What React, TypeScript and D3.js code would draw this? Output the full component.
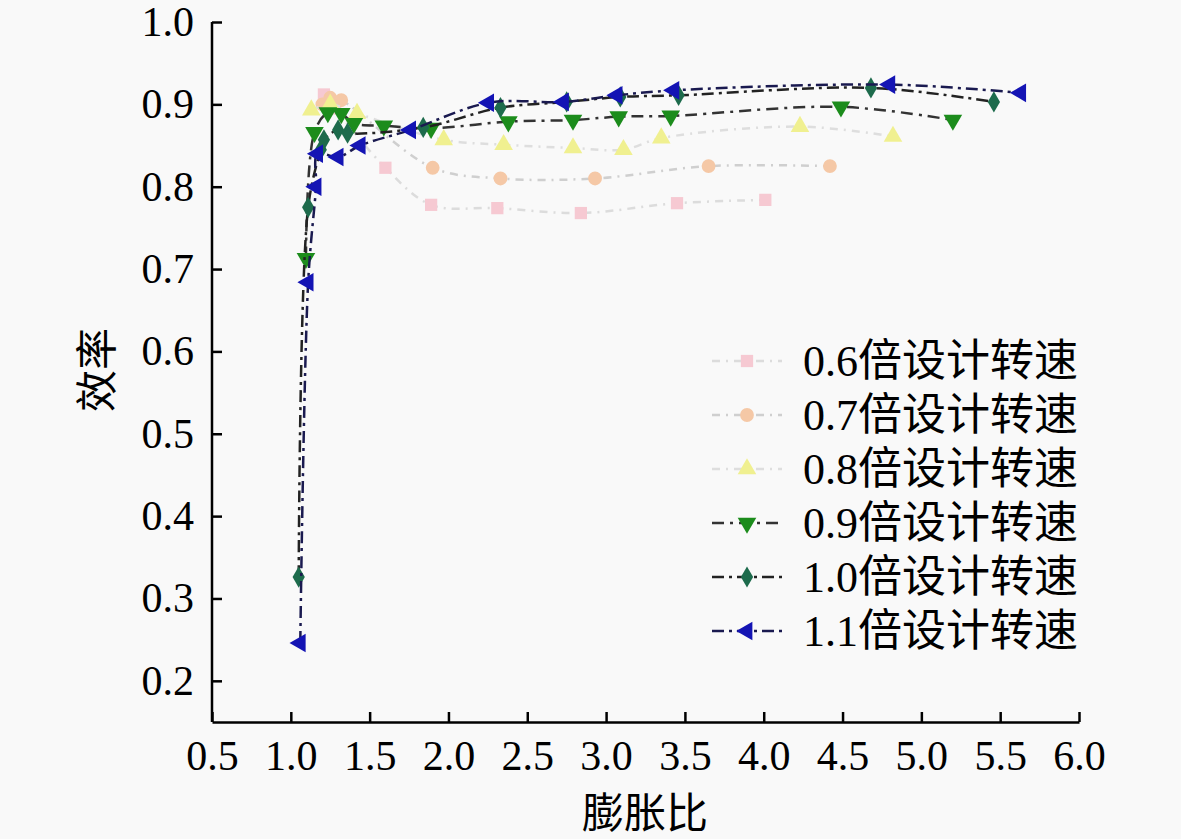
import React, { useEffect, useRef } from 'react';
import * as d3 from 'd3';

// expansion ratio / efficiency
const x06 = [1.21, 1.28, 1.6, 1.89, 2.31, 2.84, 3.45, 4.01];
const y06 = [0.912, 0.895, 0.823, 0.778, 0.774, 0.768, 0.78, 0.784];
const x07 = [1.2, 1.25, 1.32, 1.9, 2.33, 2.93, 3.65, 4.42];
const y07 = [0.9, 0.908, 0.905, 0.823, 0.81, 0.81, 0.825, 0.825];
const x08 = [1.13, 1.25, 1.42, 1.97, 2.35, 2.79, 3.11, 3.35, 4.23, 4.82];
const y08 = [0.893, 0.9, 0.889, 0.857, 0.851, 0.847, 0.845, 0.859, 0.873, 0.861];
const x09 = [1.096, 1.15, 1.235, 1.32, 1.4, 1.59, 1.89, 2.38, 2.79, 3.08, 3.41, 4.49, 5.2];
const y09 = [0.713, 0.866, 0.89, 0.889, 0.877, 0.874, 0.871, 0.879, 0.881, 0.885, 0.886, 0.897, 0.881];
const x10 = [1.05, 1.11, 1.19, 1.21, 1.3, 1.36, 1.84, 2.33, 2.75, 3.09, 3.46, 4.68, 5.46];
const y10 = [0.326, 0.775, 0.845, 0.857, 0.869, 0.865, 0.872, 0.896, 0.903, 0.909, 0.911, 0.92, 0.903];
const x11 = [1.06, 1.11, 1.16, 1.17, 1.3, 1.44, 1.76, 2.255, 2.73, 3.07, 3.43, 4.8, 5.63];
const y11 = [0.246, 0.684, 0.8, 0.84, 0.836, 0.85, 0.869, 0.902, 0.903, 0.911, 0.917, 0.924, 0.914];

const names = ['0.6倍设计转速', '0.7倍设计转速', '0.8倍设计转速', '0.9倍设计转速', '1.0倍设计转速', '1.1倍设计转速'];
const xTicks = [0.5, 1.0, 1.5, 2.0, 2.5, 3.0, 3.5, 4.0, 4.5, 5.0, 5.5, 6.0];
const yTicks = [0.2, 0.3, 0.4, 0.5, 0.6, 0.7, 0.8, 0.9, 1.0];

const series = [
  { name: names[0], xs: x06, ys: y06, line: '#dcdcdc', dash: '8,6,2,6', fill: '#f6c9d2', symbol: d3.symbolSquare, rot: 0 },
  { name: names[1], xs: x07, ys: y07, line: '#cfcfcf', dash: '8,6,2,6', fill: '#f5c8a6', symbol: d3.symbolCircle, rot: 0 },
  { name: names[2], xs: x08, ys: y08, line: '#dedede', dash: '8,6,2,6', fill: '#f0f090', symbol: d3.symbolTriangle, rot: 0 },
  { name: names[3], xs: x09, ys: y09, line: '#333333', dash: '12,6,3,6', fill: '#1c8c1c', symbol: d3.symbolTriangle, rot: 180 },
  { name: names[4], xs: x10, ys: y10, line: '#222222', dash: '12,5,3,5', fill: '#1d6b4c', symbol: d3.symbolDiamond, rot: 0 },
  { name: names[5], xs: x11, ys: y11, line: '#1a1a50', dash: '12,5,3,5', fill: '#1414b4', symbol: d3.symbolTriangle, rot: -90 },
];

const font = '"Liberation Serif", "Noto Sans CJK SC", serif';

export default function App() {
  const ref = useRef(null);

  useEffect(() => {
    if (!ref.current) return;
    const svg = d3.select(ref.current);
    svg.selectAll('*').remove();

    const x = d3.scaleLinear().domain([0.5, 6.0]).range([212, 1079]);
    const y = d3.scaleLinear().domain([0.15, 1.0]).range([722, 22]);

    svg.append('rect').attr('width', 1181).attr('height', 839).attr('fill', '#f9f9f9');

    const line = d3.line<[number, number]>()
      .x(d => x(d[0]))
      .y(d => y(d[1]))
      .curve(d3.curveCatmullRom.alpha(0.5));

    series.forEach(s => {
      const pts: [number, number][] = s.xs.map((v, i) => [v, s.ys[i]]);
      svg.append('path')
        .attr('d', line(pts))
        .attr('fill', 'none')
        .attr('stroke', s.line)
        .attr('stroke-width', 2.5)
        .attr('stroke-dasharray', s.dash);
      const sym = d3.symbol().type(s.symbol).size(s.symbol === d3.symbolDiamond ? 130 : 150);
      svg.append('g').selectAll('path')
        .data(pts)
        .join('path')
        .attr('d', sym())
        .attr('transform', d => `translate(${x(d[0])},${y(d[1])}) rotate(${s.rot})`)
        .attr('fill', s.fill);
    });

    // axes
    const xAxis = svg.append('g').attr('transform', 'translate(0,722)')
      .call(d3.axisBottom(x).tickValues(xTicks).tickSize(-10).tickSizeOuter(0).tickPadding(18).tickFormat(d3.format('.1f')));
    const yAxis = svg.append('g').attr('transform', 'translate(212,0)')
      .call(d3.axisLeft(y).tickValues(yTicks).tickSize(-10).tickSizeOuter(0).tickPadding(18).tickFormat(d3.format('.1f')));
    [xAxis, yAxis].forEach(a => {
      a.select('.domain').attr('stroke', '#000').attr('stroke-width', 2.5);
      a.selectAll('.tick line').attr('stroke', '#000').attr('stroke-width', 2.5);
      a.selectAll('.tick text').attr('fill', '#000').style('font-family', font).style('font-size', '42px');
    });
    // y axis runs up to the top
    yAxis.select('.domain').attr('d', 'M0,722V22');

    svg.append('text')
      .attr('x', 645).attr('y', 828)
      .attr('text-anchor', 'middle')
      .style('font-family', font).style('font-size', '42px')
      .text('膨胀比');
    svg.append('text')
      .attr('transform', 'translate(112,370) rotate(-90)')
      .attr('text-anchor', 'middle')
      .style('font-family', font).style('font-size', '42px')
      .text('效率');

    // legend
    const lg = svg.append('g');
    series.forEach((s, i) => {
      const cy = 361 + i * 54;
      lg.append('line')
        .attr('x1', 712).attr('x2', 782).attr('y1', cy).attr('y2', cy)
        .attr('stroke', s.line).attr('stroke-width', 2.5).attr('stroke-dasharray', s.dash);
      lg.append('path')
        .attr('d', d3.symbol().type(s.symbol).size(s.symbol === d3.symbolDiamond ? 130 : 150)())
        .attr('transform', `translate(747,${cy}) rotate(${s.rot})`)
        .attr('fill', s.fill);
      lg.append('text')
        .attr('x', 803).attr('y', cy + 15)
        .style('font-family', font).style('font-size', '44px')
        .text(s.name);
    });
  }, []);

  return (
    <svg ref={ref} width={1181} height={839} style={{ position: 'absolute', left: 0, top: 0, display: 'block' }} />
  );
}
